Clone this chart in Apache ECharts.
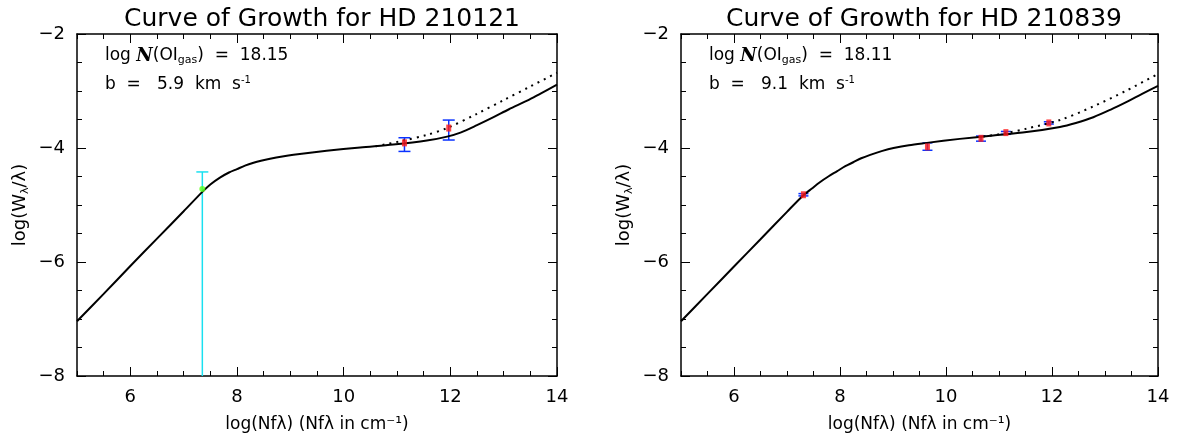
<!DOCTYPE html>
<html lang="en">
<head>
<meta charset="UTF-8">
<title>Curve of Growth</title>
<script src="https://cdn.jsdelivr.net/npm/echarts@6/dist/echarts.min.js"></script>
<style>
	html, body { margin: 0; padding: 0; background: #fff; }
	#main { width: 1181px; height: 442px; }
</style>
</head>
<body>
<div id="main"></div>
<script>
// HD 210121 : model curve (solid), curve with damping off (dotted), measured lines
var cogX1 = [5.0, 5.5, 6.0, 6.5, 7.0, 7.35, 7.5, 7.68, 7.85, 8.0, 8.15, 8.31, 8.45, 8.62, 8.85, 9.06, 9.68, 10.31, 10.93, 11.56, 11.94, 12.19, 12.5, 12.81, 13.1, 13.44, 13.7, 14.0];
var cogY1 = [-7.04, -6.56, -6.07, -5.59, -5.11, -4.77, -4.64, -4.52, -4.43, -4.37, -4.31, -4.26, -4.225, -4.19, -4.15, -4.12, -4.05, -3.99, -3.94, -3.87, -3.80, -3.73, -3.60, -3.46, -3.32, -3.17, -3.04, -2.89];
var dotX1 = [10.6, 11.12, 11.56, 11.94, 12.5, 13.0, 13.5, 14.0];
var dotY1 = [-3.97, -3.87, -3.77, -3.65, -3.40, -3.16, -2.92, -2.68];
var ptX1 = [11.14, 11.97];
var ptY1 = [-3.91, -3.65];
var ptLo1 = [-4.06, -3.86];
var ptHi1 = [-3.82, -3.51];
// upper limit style point (green with cyan bar)
var limX1 = [7.35];
var limY1 = [-4.72];
var limLo1 = [-8.0];
var limHi1 = [-4.42];

// HD 210839
var cogX2 = [5.0, 5.5, 6.0, 6.5, 7.0, 7.31, 7.47, 7.62, 7.78, 7.94, 8.1, 8.25, 8.4, 8.57, 8.8, 9.01, 9.3, 9.64, 10.26, 10.89, 11.52, 12.15, 12.45, 12.78, 13.1, 13.41, 13.7, 14.0];
var cogY2 = [-7.04, -6.56, -6.08, -5.60, -5.12, -4.83, -4.71, -4.60, -4.50, -4.41, -4.32, -4.25, -4.18, -4.12, -4.05, -4.00, -3.95, -3.91, -3.84, -3.78, -3.72, -3.63, -3.56, -3.46, -3.33, -3.19, -3.05, -2.91];
var dotX2 = [10.7, 11.13, 11.52, 12.15, 12.78, 13.41, 14.0];
var dotY2 = [-3.80, -3.74, -3.66, -3.51, -3.27, -2.99, -2.70];
var ptX2 = [7.31, 9.65, 10.66, 11.13, 11.94];
var ptY2 = [-4.82, -3.98, -3.83, -3.73, -3.56];
var ptLo2 = [-4.84, -4.04, -3.88, -3.76, -3.58];
var ptHi2 = [-4.80, -3.91, -3.79, -3.71, -3.54];

var titles = ['Curve of Growth for HD 210121', 'Curve of Growth for HD 210839'];
var logN = ['18.15', '18.11'];
var bVal = ['5.9', '9.1'];
var xMajor = [6, 8, 10, 12, 14];

var FONT = 'DejaVu Sans';
var grids = [
	{ left: 77, right: 624, top: 34, bottom: 66 },
	{ left: 681, right: 23, top: 34, bottom: 66 }
];

function zip(a, b) {
	return a.map(function (v, i) { return [v, b[i]]; });
}
function zip3(a, b, c) {
	return a.map(function (v, i) { return [v, b[i], c[i]]; });
}

// vertical bar with caps, drawn through the axes
function errItem(color, capW, lowCap) {
	return function (params, api) {
		var top = api.coord([api.value(0), api.value(2)]);
		var bot = api.coord([api.value(0), api.value(1)]);
		var st = { stroke: color, lineWidth: 1.5 };
		var kids = [
			{ type: 'line', shape: { x1: top[0], y1: top[1], x2: bot[0], y2: bot[1] }, style: st },
			{ type: 'line', shape: { x1: top[0] - capW, y1: top[1], x2: top[0] + capW, y2: top[1] }, style: st }
		];
		if (lowCap) {
			kids.push({ type: 'line', shape: { x1: bot[0] - capW, y1: bot[1], x2: bot[0] + capW, y2: bot[1] }, style: st });
		}
		return { type: 'group', children: kids };
	};
}

var xAxes = [], yAxes = [], series = [];
grids.forEach(function (g, i) {
	var base = { gridIndex: i, type: 'value', min: 5, max: 14, splitLine: { show: false } };
	// bottom: major ticks + labels
	xAxes.push(Object.assign({}, base, {
		position: 'bottom',
		name: 'log(Nfλ) (Nfλ in cm⁻¹)',
		nameLocation: 'middle',
		nameGap: 40,
		nameTextStyle: { fontFamily: FONT, fontSize: 17, color: '#000' },
		axisLine: { show: true, onZero: false, lineStyle: { color: '#000', width: 1.5 } },
		axisTick: { show: true, inside: true, length: 9, customValues: xMajor, lineStyle: { color: '#000' } },
		axisLabel: { show: true, customValues: xMajor, margin: 12, fontFamily: FONT, fontSize: 18, color: '#000' }
	}));
	// bottom: minor ticks
	xAxes.push(Object.assign({}, base, {
		position: 'bottom', interval: 0.5,
		axisLine: { show: false }, axisLabel: { show: false },
		axisTick: { show: true, inside: true, length: 5, lineStyle: { color: '#000' } }
	}));
	// top mirror
	xAxes.push(Object.assign({}, base, {
		position: 'top',
		axisLine: { show: true, onZero: false, lineStyle: { color: '#000', width: 1.5 } },
		axisTick: { show: true, inside: true, length: 9, customValues: xMajor, lineStyle: { color: '#000' } },
		axisLabel: { show: false }
	}));
	xAxes.push(Object.assign({}, base, {
		position: 'top', interval: 0.5,
		axisLine: { show: false }, axisLabel: { show: false },
		axisTick: { show: true, inside: true, length: 5, lineStyle: { color: '#000' } }
	}));

	var ybase = {
		gridIndex: i, type: 'value', min: -8, max: -2, interval: 2,
		splitLine: { show: false },
		axisLine: { show: true, onZero: false, lineStyle: { color: '#000', width: 1.5 } },
		axisTick: { show: true, inside: true, length: 9, lineStyle: { color: '#000' } },
		minorTick: { show: true, splitNumber: 4, length: 5, lineStyle: { color: '#000' } }
	};
	yAxes.push(Object.assign({}, ybase, {
		position: 'left',
		name: '{n|log(W}{sub|λ}{n|/λ)}',
		nameLocation: 'middle',
		nameGap: 46,
		nameTextStyle: {
			fontFamily: FONT, fontSize: 18, color: '#000',
			rich: {
				n: { fontFamily: FONT, fontSize: 18, color: '#000', lineHeight: 22 },
				sub: { fontFamily: FONT, fontSize: 11, color: '#000', lineHeight: 22, verticalAlign: 'bottom' }
			}
		},
		axisLabel: {
			margin: 12, fontFamily: FONT, fontSize: 18, color: '#000',
			formatter: function (v) { return String(v).replace('-', '\u2212'); }
		}
	}));
	yAxes.push(Object.assign({}, ybase, { position: 'right', axisLabel: { show: false } }));
});

var sets = [
	{ cx: cogX1, cy: cogY1, dx: dotX1, dy: dotY1, px: ptX1, py: ptY1, lo: ptLo1, hi: ptHi1, cap: 6 },
	{ cx: cogX2, cy: cogY2, dx: dotX2, dy: dotY2, px: ptX2, py: ptY2, lo: ptLo2, hi: ptHi2, cap: 5 }
];
sets.forEach(function (s, i) {
	var xi = i * 4, yi = i * 2;
	series.push({
		type: 'line', xAxisIndex: xi, yAxisIndex: yi, data: zip(s.cx, s.cy),
		smooth: 0.3, showSymbol: false, silent: true,
		lineStyle: { color: '#000', width: 2 }
	});
	series.push({
		type: 'line', xAxisIndex: xi, yAxisIndex: yi, data: zip(s.dx, s.dy),
		smooth: 0.3, showSymbol: false, silent: true,
		lineStyle: { color: '#000', width: 2, type: [2, 5] }
	});
	series.push({
		type: 'custom', xAxisIndex: xi, yAxisIndex: yi,
		data: zip3(s.px, s.lo, s.hi),
		encode: { x: 0, y: [1, 2] },
		renderItem: errItem('#0a32ff', s.cap, true), z: 3
	});
	series.push({
		type: 'scatter', xAxisIndex: xi, yAxisIndex: yi, data: zip(s.px, s.py),
		symbol: 'rect', symbolSize: [5, 7], itemStyle: { color: '#ff1a1a' }, z: 4
	});
});
// limit point on HD 210121
series.push({
	type: 'custom', xAxisIndex: 0, yAxisIndex: 0,
	data: zip3(limX1, limLo1, limHi1),
	encode: { x: 0, y: [1, 2] },
	renderItem: errItem('#19e0f0', 6, false), z: 3
});
series.push({
	type: 'scatter', xAxisIndex: 0, yAxisIndex: 0, data: zip(limX1, limY1),
	symbol: 'circle', symbolSize: 6, itemStyle: { color: '#5cff1a' }, z: 4
});

var richTxt = {
	n: { fontFamily: FONT, fontSize: 17, fill: '#000', lineHeight: 20 },
	it: { fontFamily: 'DejaVu Serif', fontStyle: 'italic', fontWeight: 'bold', fontSize: 18, fill: '#000', lineHeight: 20 },
	sub: { fontFamily: FONT, fontSize: 11, fill: '#000', lineHeight: 20, verticalAlign: 'bottom' },
	sup: { fontFamily: FONT, fontSize: 10, fill: '#000', lineHeight: 20, verticalAlign: 'top' }
};
var graphics = [];
grids.forEach(function (g, i) {
	graphics.push({
		type: 'text', left: g.left + 28, top: 47,
		style: { text: '{n|log }{it|N}{n|(OI}{sub|gas}{n|)  =  ' + logN[i] + '}', rich: richTxt }
	});
	graphics.push({
		type: 'text', left: g.left + 28, top: 75,
		style: { text: '{n|b  =   ' + bVal[i] + '  km  s}{sup|-1}', rich: richTxt }
	});
});

var chart = echarts.init(document.getElementById('main'));
chart.setOption({
	animation: false,
	backgroundColor: '#fff',
	title: [
		{ text: titles[0], left: 317, top: 2, textAlign: 'center', textStyle: { fontFamily: FONT, fontWeight: 'normal', fontSize: 25, color: '#000' } },
		{ text: titles[1], left: 919, top: 2, textAlign: 'center', textStyle: { fontFamily: FONT, fontWeight: 'normal', fontSize: 25, color: '#000' } }
	],
	grid: grids,
	xAxis: xAxes,
	yAxis: yAxes,
	series: series,
	graphic: graphics
});
</script>
</body>
</html>
